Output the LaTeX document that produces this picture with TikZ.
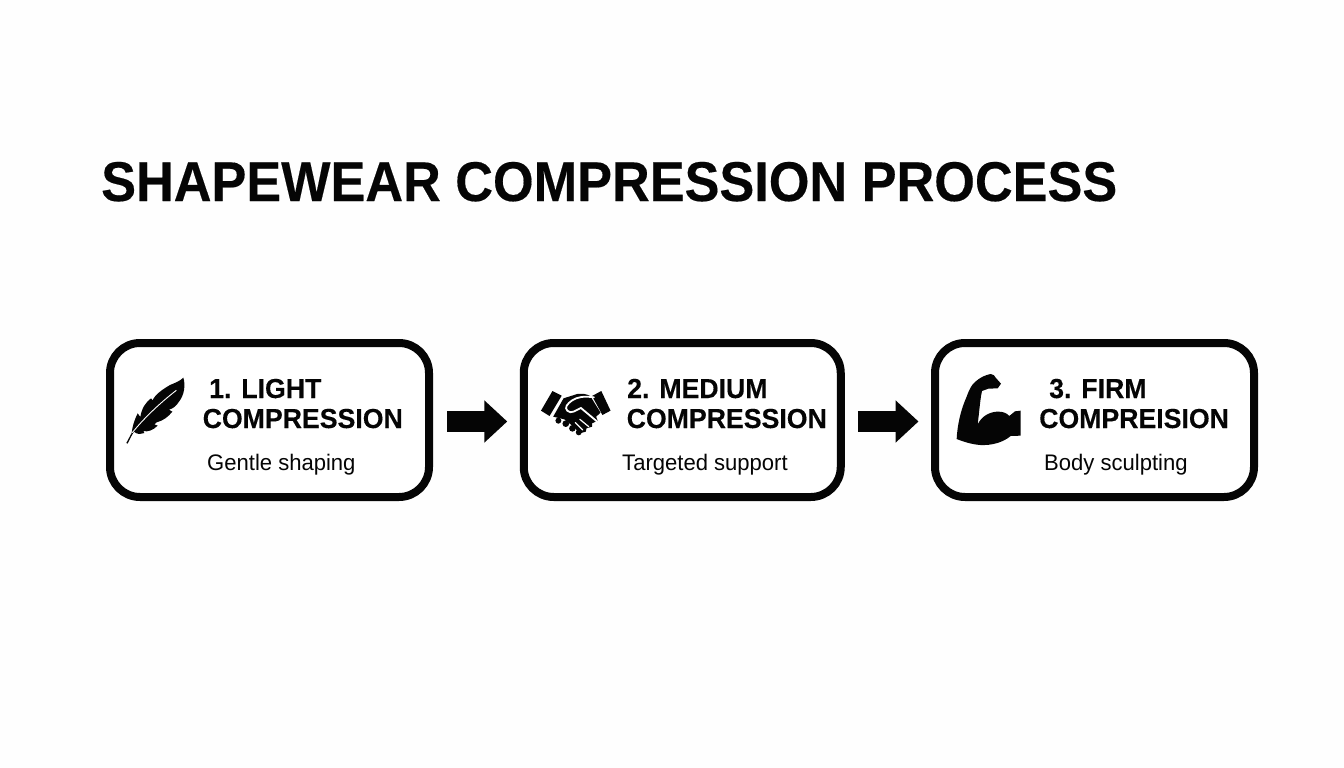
\documentclass[tikz,border=0pt]{standalone}
\usepackage{fontspec}
\setmainfont{Liberation Sans}
\newfontfamily\headfont[FakeStretch=0.97,FakeBold=0.25]{Liberation Sans Bold}
\newfontfamily\titlefont[FakeStretch=0.933,FakeBold=0.3]{Liberation Sans Bold}
\newfontfamily\subfont[FakeStretch=0.98]{Liberation Sans}
\usetikzlibrary{arrows.meta}
\definecolor{ink}{HTML}{050505}
\definecolor{paper}{HTML}{FEFEFE}
\tikzset{
  stage/.style={draw=ink,line width=8pt,rounded corners=30pt,fill=white,minimum width=319pt,minimum height=154pt,inner sep=0pt},
  headtxt/.style={anchor=base west,inner sep=0pt,text=ink,font=\headfont\fontsize{27.5}{30}\selectfont},
  subtxt/.style={anchor=base west,inner sep=0pt,text=ink,font=\subfont\fontsize{22.5}{25}\selectfont},
  titletxt/.style={anchor=base west,inner sep=0pt,text=ink,font=\titlefont\fontsize{56}{60}\selectfont},
  flow/.style={draw=ink,line width=21pt,-{Triangle[length=23pt,width=41pt,fill=ink]}},
  icon/.style={fill=ink,draw=none},
  cut/.style={draw=white,line width=1.8pt,line cap=round,fill=none}
}
\begin{document}
\begin{tikzpicture}[x=1pt,y=-1pt]
\useasboundingbox (0,0) rectangle (1344,768);
\fill[paper] (0,0) rectangle (1344,768);
\node[titletxt] (title) at (101,201) {SHAPEWEAR COMPRESSION PROCESS};
\node[stage] (b1) at (269.5,420) {};
\node[stage,minimum width=317pt] (b2) at (682.25,420) {};
\node[stage,minimum width=319pt] (b3) at (1094.5,420) {};
\draw[flow,shorten <=14pt,shorten >=12.5pt] ([yshift=-1.5pt]b1.east) -- ([yshift=-1.5pt]b2.west);
\draw[flow,shorten <=13pt,shorten >=12.5pt] ([yshift=-1.5pt]b2.east) -- ([yshift=-1.5pt]b3.west);
\node[headtxt] (t1a) at (209,398) {1. LIGHT};
\node[headtxt] (t1b) at (202.5,428) {COMPRESSION};
\node[subtxt] (s1) at (207,470) {Gentle shaping};
\node[headtxt] (t2a) at (627,398) {2. MEDIUM};
\node[headtxt] (t2b) at (626.5,428) {COMPRESSION};
\node[subtxt] (s2) at (622,470) {Targeted support};
\node[headtxt] (t3a) at (1049,398) {3. FIRM};
\node[headtxt] (t3b) at (1039,428) {COMPREISION};
\node[subtxt] (s3) at (1044,470) {Body sculpting};
% feather
\begin{scope}[shift={(115,365)},x=0.3333pt,y=-0.3333pt]
\fill[icon] (205,38) .. controls (212,60) and (208,90) .. (192,110) .. controls (184,122) and (176,130) .. (162,134)
 -- (172,140) .. controls (160,155) and (145,167) .. (125,172) -- (118,178) -- (128,182) .. controls (115,195) and (98,202) .. (85,198)
 -- (88,204) .. controls (75,208) and (65,208) .. (57,200) -- (50,212) -- (38,236) -- (34,234) -- (50,204)
 .. controls (52,185) and (58,165) .. (68,145) -- (76,156) .. controls (80,130) and (92,112) .. (108,100) -- (113,106) .. controls (120,88) and (145,72) .. (165,60) .. controls (180,54) and (195,48) .. (205,38) -- cycle;
\draw[draw=white,line width=0.9pt] (52,203) .. controls (85,162) and (130,118) .. (184,76);
\end{scope}
% handshake
\begin{scope}[shift={(534.7,380)},x=0.37pt,y=-0.3333pt]
\fill[icon] (48,33) -- (73,47) -- (40,108) -- (17,92) -- cycle;
\fill[icon] (180,33) -- (205,92) -- (183,105) -- (155,48) -- cycle;
\fill[icon] (78,55) -- (115,42) .. controls (130,40) and (140,42) .. (150,48) -- (178,98) -- (166,110) -- (170,122) -- (155,130) -- (155,140) -- (140,145) -- (138,155) -- (122,160) -- (105,140) -- (80,118) -- (50,110) -- cycle;
\fill[icon] (64,122) circle[x radius=8,y radius=9];
\fill[icon] (84,131) circle[x radius=9,y radius=10];
\fill[icon] (102,145) circle[x radius=9,y radius=10];
\fill[icon] (119,157) circle[x radius=8,y radius=9];
\draw[cut] (160,52) .. controls (135,48) and (115,50) .. (100,62) .. controls (88,72) and (80,82) .. (88,92) .. controls (98,104) and (112,90) .. (125,84) -- (168,124);
\draw[cut,line width=1.2pt] (122,118) -- (146,140);
\draw[cut,line width=1.2pt] (110,128) -- (130,150);
\end{scope}
% biceps
\begin{scope}[shift={(950,365)},x=0.3333pt,y=-0.3333pt]
\fill[icon] (20,222) .. controls (22,180) and (32,135) .. (50,95) .. controls (58,72) and (66,58) .. (76,50)
 .. controls (90,38) and (105,30) .. (122,27) .. controls (130,28) and (135,32) .. (137,38) -- (153,56) -- (143,70) -- (115,71) -- (96,78) .. controls (90,105) and (88,140) .. (83,178)
 .. controls (95,155) and (115,142) .. (140,140) .. controls (158,139) and (170,144) .. (178,153) -- (195,139) -- (212,137) -- (212,212) -- (182,213)
 .. controls (160,232) and (125,242) .. (90,240) .. controls (65,238) and (40,230) .. (20,222) -- cycle;
\end{scope}
\end{tikzpicture}
\end{document}
